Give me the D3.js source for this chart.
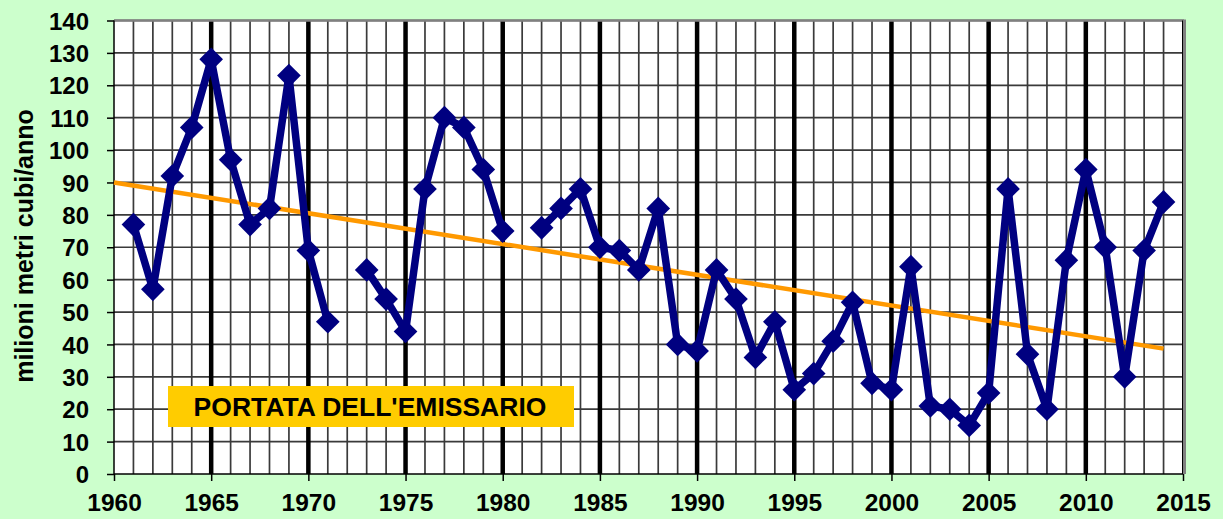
<!DOCTYPE html>
<html><head><meta charset="utf-8">
<script src="https://cdn.jsdelivr.net/npm/d3@7"></script>
<style>
html,body{margin:0;padding:0;background:#CCFFCC;}
svg{display:block;}
text{font-family:Arial,"Liberation Sans",sans-serif;font-weight:bold;}
</style></head>
<body>
<svg id="c" width="1223" height="519"></svg>
<script>
const years = [1961,1962,1963,1964,1965,1966,1967,1968,1969,1970,1971,1972,1973,1974,1975,1976,1977,1978,1979,1980,1981,1982,1983,1984,1985,1986,1987,1988,1989,1990,1991,1992,1993,1994,1995,1996,1997,1998,1999,2000,2001,2002,2003,2004,2005,2006,2007,2008,2009,2010,2011,2012,2013,2014];
const portata = [77,57,92,107,128,97,77,82,123,69,47,null,63,54,44,88,110,107,94,75,null,76,82,88,70,69,63,82,40,38,63,54,36,47,26,31,41,53,28,26,64,21,20,15,25,88,37,20,66,94,70,30,69,84];
const trendYears = [1960, 2014];
const trendValues = [90, 38.7];
const yTicks = [0,10,20,30,40,50,60,70,80,90,100,110,120,130,140];
const xTicks = [1960,1965,1970,1975,1980,1985,1990,1995,2000,2005,2010,2015];
const title = "PORTATA DELL'EMISSARIO";
const yLabel = "milioni metri cubi/anno";

const svg = d3.select("#c");
const L = 114, R = 1183, T = 20.5, B = 474;
const x = d3.scaleLinear().domain([1960, 2015]).range([L, R]);
const y = d3.scaleLinear().domain([0, 140]).range([B, T]);

// plot background
svg.append("rect").attr("x", L).attr("y", T).attr("width", R - L).attr("height", B - T).attr("fill", "#fff");

// horizontal grid
svg.append("g").selectAll("line").data(yTicks.slice(1)).join("line")
  .attr("x1", L).attr("x2", R).attr("y1", d => y(d)).attr("y2", d => y(d))
  .attr("stroke", "#3a3a3a").attr("stroke-width", 1.7);

// vertical grid each year
const allYears = d3.range(1961, 2015);
svg.append("g").selectAll("line").data(allYears).join("line")
  .attr("x1", d => x(d)).attr("x2", d => x(d)).attr("y1", T).attr("y2", B)
  .attr("stroke", d => d % 5 === 0 ? "#000" : "#3a3a3a")
  .attr("stroke-width", d => d % 5 === 0 ? 4.5 : 1.7);

// plot border top/right (gray)
svg.append("line").attr("x1", L).attr("x2", R + 1).attr("y1", T).attr("y2", T).attr("stroke", "#808080").attr("stroke-width", 2.5);
svg.append("line").attr("x1", R + 1.5).attr("x2", R + 1.5).attr("y1", T - 1).attr("y2", B).attr("stroke", "#808080").attr("stroke-width", 3);
svg.append("line").attr("x1", R - 0.5).attr("x2", R - 0.5).attr("y1", T).attr("y2", B).attr("stroke", "#000").attr("stroke-width", 1);

// axes
const yAxis = d3.axisLeft(y).tickValues(yTicks).tickSize(7).tickPadding(18);
const gy = svg.append("g").attr("transform", `translate(${L},0)`).call(yAxis);
const xAxis = d3.axisBottom(x).tickValues(xTicks).tickFormat(d3.format("d")).tickSize(7).tickPadding(13);
const gx = svg.append("g").attr("transform", `translate(0,${B})`).call(xAxis);
[gy, gx].forEach(g => {
  g.attr("font-family", null).attr("font-size", null);
  g.select(".domain").attr("stroke", "#000").attr("stroke-width", 1.5);
  g.selectAll(".tick line").attr("stroke", "#000").attr("stroke-width", 1.5);
  g.selectAll(".tick text").attr("fill", "#000").style("font-family", "Arial, 'Liberation Sans', sans-serif").style("font-weight", "bold");
});
gy.selectAll(".tick text").style("font-size", "24px").attr("dy", "0.36em");
gx.selectAll(".tick text").style("font-size", "24.5px");
gy.select(".domain").attr("d", `M0,${B}V${T}`);
gx.select(".domain").attr("d", `M${L},0H${R}`);

// trend line
const trend = trendYears.map((yr, i) => [yr, trendValues[i]]);
svg.append("path").datum(trend)
  .attr("d", d3.line().x(d => x(d[0])).y(d => y(d[1])))
  .attr("stroke", "#FF9900").attr("stroke-width", 4.5).attr("fill", "none");

// data line
const pts = years.map((yr, i) => ({yr, v: portata[i]}));
svg.append("path").datum(pts)
  .attr("d", d3.line().defined(d => d.v !== null).x(d => x(d.yr)).y(d => y(d.v)))
  .attr("stroke", "#000080").attr("stroke-width", 7.5).attr("fill", "none").attr("stroke-linejoin", "round");

// diamond markers
svg.append("g").selectAll("path").data(pts.filter(d => d.v !== null)).join("path")
  .attr("transform", d => `translate(${x(d.yr)},${y(d.v)}) rotate(45)`)
  .attr("d", d3.symbol().type(d3.symbolSquare).size(280))
  .attr("fill", "#000080");

// label box
svg.append("rect").attr("x", 168).attr("y", 386).attr("width", 406).attr("height", 41).attr("fill", "#FFCC00");
svg.append("text").attr("x", 370).attr("y", 416).attr("text-anchor", "middle")
  .style("font-size", "26.5px").attr("fill", "#000").text(title);

// y label
svg.append("text").attr("transform", "translate(33,246) rotate(-90)").attr("text-anchor", "middle")
  .style("font-size", "25px").attr("fill", "#000").text(yLabel);
</script>
</body></html>
